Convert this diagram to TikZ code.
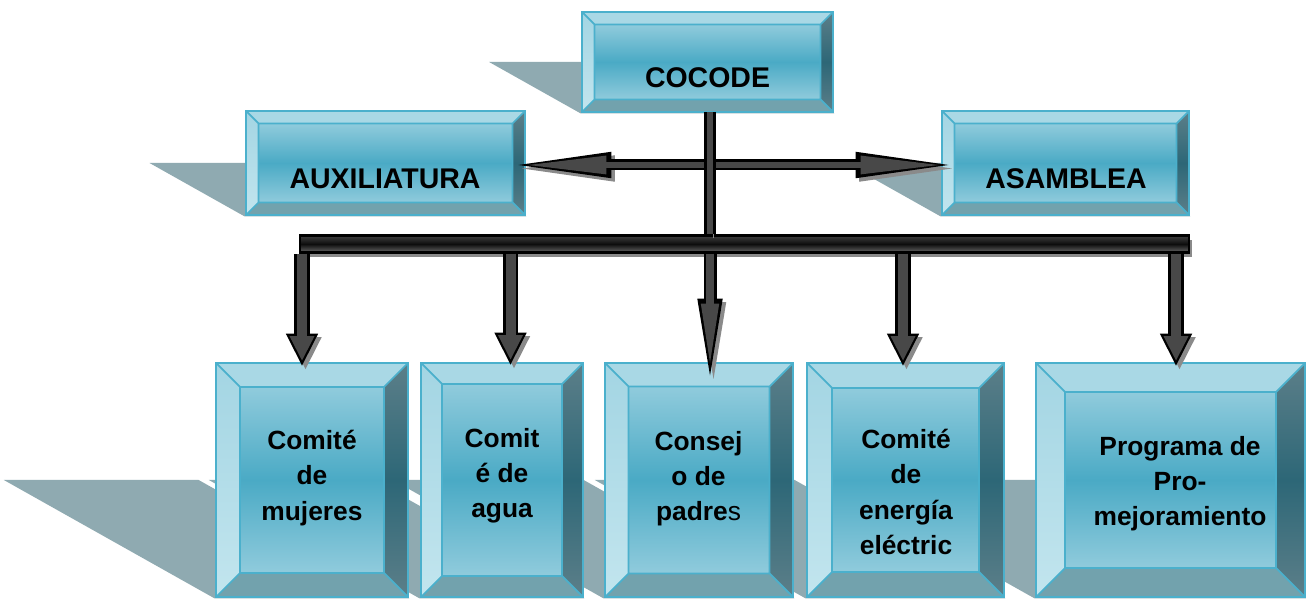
\documentclass[tikz,border=0pt]{standalone}
\usepackage{fontspec}
\setmainfont{Liberation Sans}
\usetikzlibrary{calc,arrows.meta,backgrounds}

\definecolor{boxedge}{HTML}{4BB0CC}
\definecolor{facelight}{HTML}{90CBDC}
\definecolor{facemid}{HTML}{4AAAC5}
\definecolor{bevtop}{HTML}{A9D8E5}
\definecolor{bevleftA}{HTML}{A3D5E3}
\definecolor{bevleftB}{HTML}{C2E5EE}
\definecolor{bevrightA}{HTML}{5C7F89}
\definecolor{bevrightB}{HTML}{2D6777}
\definecolor{bevbottom}{HTML}{72A2AD}
\definecolor{boxshadow}{HTML}{8FAAB1}
\definecolor{arrowgray}{HTML}{8A8A8A}
\definecolor{arrowfill}{HTML}{484848}

% bevel faces of a box, drawn inside the node path
\newcommand{\bevelfaces}[1]{%
  \path (path picture bounding box.south west) coordinate (bsw)
        (path picture bounding box.north east) coordinate (bne)
        ($(bsw)+(#1,#1)$) coordinate (isw)
        ($(bne)-(#1,#1)$) coordinate (ine);
  \fill[bevtop] (bsw |- bne) -- (bne) -- (ine) -- (isw |- ine) -- cycle;
  \shade[top color=bevleftA, bottom color=bevleftB] (bsw |- bne) -- (isw |- ine) -- (isw) -- (bsw) -- cycle;
  \shade[top color=bevrightA, bottom color=bevrightA, middle color=bevrightB] (bne) -- (ine) -- (ine |- isw) -- (bne |- bsw) -- cycle;
  \fill[bevbottom] (bsw) -- (isw) -- (ine |- isw) -- (bne |- bsw) -- cycle;
  \shade[top color=facelight, bottom color=facelight, middle color=facemid] (isw) rectangle (ine);
  \draw[boxedge, line width=0.5pt] (isw) rectangle (ine)
    (bsw) -- (isw) (bsw |- bne) -- (isw |- ine) (bne) -- (ine) (bne |- bsw) -- (ine |- isw);
}

% slanted shadow behind a box
\newcommand{\boxshadow}[1]{%
  \fill[boxshadow] let \p1=(#1.south west), \p2=(#1.north east), \n1={(\y2-\y1)/2} in
    (\p1) -- (\x2,\y1) -- (\x2-1.78*\n1,\y1+\n1) -- (\x1-1.78*\n1,\y1+\n1) -- cycle;}

\tikzset{
  bevelbox/.style={draw=boxedge, line width=0.8pt, inner sep=0pt, path picture={\bevelfaces{#1}}},
  toplabel/.style={font=\fontsize{8.1}{10}\selectfont\bfseries, align=center, inner sep=0pt},
  boxlabel/.style={font=\fontsize{7.5}{10}\selectfont\bfseries, align=center, inner sep=0pt},
  blockshadow/.style={preaction={draw=arrowgray, transform canvas={xshift=0.035cm, yshift=-0.035cm}}},
  downarrow/.style={draw=black, line width=0.155cm,
    -{Triangle[length=0.32cm, width=0.32cm, line width=0.5pt]}, blockshadow,
    postaction={draw=arrowfill, line width=0.10cm, -{Triangle[length=0.25cm, width=0.23cm]}, shorten >=0.045cm}},
  longdown/.style={draw=black, line width=0.13cm,
    -{Triangle[length=0.77cm, width=0.25cm, line width=0.5pt]}, blockshadow,
    postaction={draw=arrowfill, line width=0.075cm, -{Triangle[length=0.66cm, width=0.16cm]}, shorten >=0.06cm}},
  twoway/.style={draw=black, line width=0.11cm,
    {Triangle[length=0.93cm, width=0.26cm, line width=0.5pt]}-{Triangle[length=0.93cm, width=0.26cm, line width=0.5pt]}, blockshadow,
    postaction={draw=arrowfill, line width=0.06cm, {Triangle[length=0.82cm, width=0.17cm]}-{Triangle[length=0.82cm, width=0.17cm]}, shorten <=0.06cm, shorten >=0.06cm}},
  stem/.style={draw=black, line width=0.12cm, blockshadow,
    postaction={draw=arrowfill, line width=0.065cm}},
  barline/.style={draw=black, line width=0.6pt, inner sep=0pt,
    top color=black!75, bottom color=black!60, middle color=black!95,
    preaction={fill=arrowgray, transform canvas={xshift=0.03cm, yshift=-0.05cm}}}
}

\begin{document}
\begin{tikzpicture}
  \useasboundingbox (0,0) rectangle (13.06,5.98);

  % boxes
  \node [bevelbox=0.125cm, minimum width=2.51cm, minimum height=1.00cm] (cocode) at (7.075,5.36) {};
  \node [bevelbox=0.125cm, minimum width=2.79cm, minimum height=1.04cm] (aux) at (3.855,4.35) {};
  \node [bevelbox=0.125cm, minimum width=2.47cm, minimum height=1.04cm] (asam) at (10.655,4.35) {};
  \node [bevelbox=0.24cm, minimum width=1.92cm, minimum height=2.34cm] (mujeres) at (3.12,1.18) {};
  \node [bevelbox=0.21cm, minimum width=1.62cm, minimum height=2.34cm] (agua) at (5.02,1.18) {};
  \node [bevelbox=0.235cm, minimum width=1.88cm, minimum height=2.34cm] (padres) at (6.99,1.18) {};
  \node [bevelbox=0.25cm, minimum width=1.97cm, minimum height=2.34cm] (energia) at (9.055,1.18) {};
  \node [bevelbox=0.29cm, minimum width=2.69cm, minimum height=2.34cm] (promejora) at (11.705,1.18) {};

  \begin{scope}[on background layer]
    \fill[white] (0,0) rectangle (13.06,5.98);
    \boxshadow{cocode}
    \boxshadow{aux}
    \boxshadow{asam}
    \boxshadow{mujeres}
    \boxshadow{agua}
    \boxshadow{padres}
    \boxshadow{energia}
    \boxshadow{promejora}
  \end{scope}

  % texts
  \node [toplabel, anchor=base] (cocodetxt) at (7.075,5.10) {COCODE};
  \node [toplabel, anchor=base] (auxtxt) at (3.85,4.09) {AUXILIATURA};
  \node [toplabel, anchor=base] (asamtxt) at (10.66,4.09) {ASAMBLEA};
  \node [boxlabel] (mujerestxt) at (3.12,1.20) {Comité\\de\\mujeres};
  \node [boxlabel] (aguatxt) at (5.02,1.22) {Comit\\é de\\agua};
  \node [boxlabel] (padrestxt) at (6.985,1.19) {Consej\\o de\\padre{\mdseries s}};
  \node [boxlabel] (energiatxt) at (9.06,1.06) {Comité\\de\\energía\\eléctric};
  \node [boxlabel] (promejoratxt) at (11.80,1.14) {Programa de\\Pro-\\mejoramiento};

  % connectors
  \coordinate (hub) at (7.10,4.86);
  \draw [twoway] ([xshift=-0.08cm, yshift=-0.02cm]aux.east) -- ([xshift=0.08cm, yshift=-0.02cm]asam.west);
  \node [barline, minimum width=8.89cm, minimum height=0.17cm] (bar) at (7.445,3.54) {};
  \draw [stem] (hub) -- (hub |- bar.north);
  \draw [downarrow] ([xshift=-0.10cm]mujeres.north |- bar.south) -- ([xshift=-0.10cm, yshift=-0.04cm]mujeres.north);
  \draw [downarrow] ([xshift=0.085cm]agua.north |- bar.south) -- ([xshift=0.085cm, yshift=-0.03cm]agua.north);
  \draw [longdown] (hub |- bar.south) -- ([yshift=-0.14cm]hub |- padres.north);
  \draw [downarrow] ([xshift=-0.025cm]energia.north |- bar.south) -- ([xshift=-0.025cm, yshift=-0.04cm]energia.north);
  \draw [downarrow] ([xshift=0.055cm]promejora.north |- bar.south) -- ([xshift=0.055cm, yshift=-0.04cm]promejora.north);
\end{tikzpicture}
\end{document}
